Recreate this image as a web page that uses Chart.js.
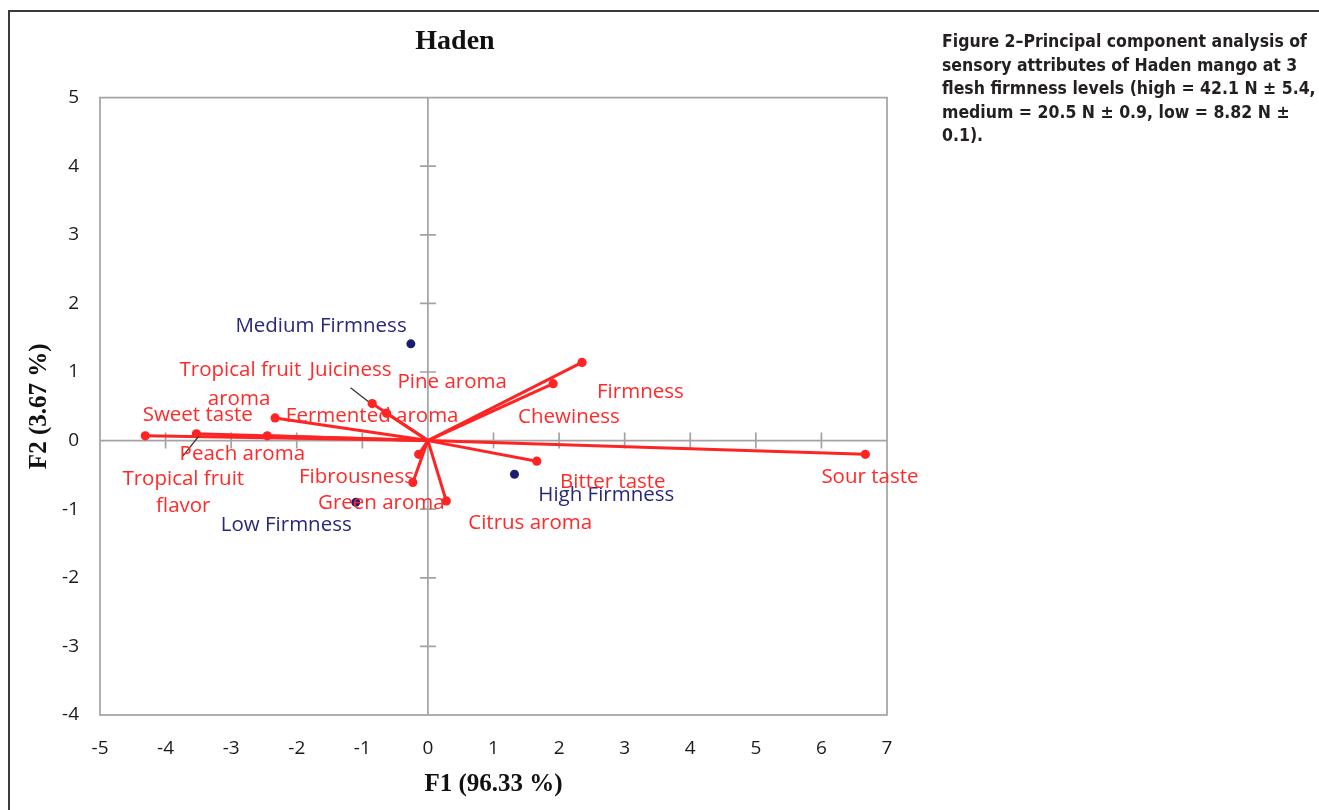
<!DOCTYPE html>
<html>
<head>
<meta charset="utf-8">
<script src="https://cdn.jsdelivr.net/npm/chart.js@4.4.1/dist/chart.umd.min.js"></script>
<style>
    body { margin: 0; background: #fff; width: 1319px; height: 810px; overflow: hidden; position: relative; }
    #frame { position: absolute; left: 8px; top: 10px; right: 0; bottom: 0; border-top: 2px solid #3a3a3a; border-left: 2px solid #3a3a3a; }
    #chart { position: absolute; left: 0; top: 0; }
    #caption {
        position: absolute; left: 942px; top: 30px; width: 377px;
        font-family: "DejaVu Sans Condensed", "DejaVu Sans", sans-serif;
        font-weight: bold; font-size: 17.5px; line-height: 23.5px; color: #231f20;
    }
</style>
</head>
<body>
<div id="frame"></div>
<canvas id="chart" width="1319" height="810"></canvas>
<div id="caption">Figure 2–Principal component analysis of<br>sensory attributes of Haden mango at 3<br>flesh firmness levels (high = 42.1 N ± 5.4,<br>medium = 20.5 N ± 0.9, low = 8.82 N ±<br>0.1).</div>
<script>
// Variables (loadings)
const attributes = ['Sweet taste', 'Tropical fruit flavor', 'Peach aroma', 'Tropical fruit aroma', 'Juiciness',
    'Fermented aroma', 'Green aroma', 'Fibrousness', 'Citrus aroma', 'Bitter taste', 'Chewiness', 'Firmness', 'Sour taste'];
const f1Loadings = [-4.31, -3.53, -2.45, -2.33, -0.85, -0.63, -0.14, -0.23, 0.28, 1.66, 1.91, 2.35, 6.67];
const f2Loadings = [0.07, 0.10, 0.07, 0.33, 0.54, 0.40, -0.20, -0.61, -0.88, -0.30, 0.83, 1.14, -0.20];

// Observations (firmness levels)
const observations = ['Medium Firmness', 'Low Firmness', 'High Firmness'];
const f1Scores = [-0.26, -1.10, 1.32];
const f2Scores = [1.41, -0.90, -0.49];

// Axis tick ranges
const xTicks = [-5, -4, -3, -2, -1, 0, 1, 2, 3, 4, 5, 6, 7];
const yTicks = [-4, -3, -2, -1, 0, 1, 2, 3, 4, 5];

// Text labels as placed on the plot (centre, in axis units)
const labelText = ['Medium Firmness', 'Low Firmness', 'High Firmness', 'Tropical fruit', 'Juiciness', 'aroma',
    'Pine aroma', 'Firmness', 'Chewiness', 'Sweet taste', 'Fermented aroma', 'Peach aroma', 'Tropical fruit',
    'flavor', 'Fibrousness', 'Green aroma', 'Citrus aroma', 'Bitter taste', 'Sour taste'];
const labelX = [-1.63, -2.16, 2.72, -2.86, -1.18, -2.88, 0.37, 3.24, 2.15, -3.51, -0.85, -2.83, -3.73, -3.73, -1.09, -0.71, 1.56, 2.82, 6.74];
const labelY = [1.67, -1.23, -0.79, 1.02, 1.02, 0.61, 0.85, 0.70, 0.34, 0.37, 0.35, -0.20, -0.56, -0.96, -0.53, -0.91, -1.20, -0.61, -0.53];
const labelIsObs = [true, true, true, false, false, false, false, false, false, false, false, false, false, false, false, false, false, false, false];

// Leader lines (label -> point)
const leaderLines = [
    [{ x: -1.18, y: 0.77 }, { x: -0.91, y: 0.57 }],
    [{ x: -3.74, y: -0.23 }, { x: -3.49, y: 0.07 }]
];

const RED = '#ff2424';
const NAVY = '#1d1d70';

const vectorSets = attributes.map((name, i) => ({
    label: name,
    data: [{ x: 0, y: 0 }, { x: f1Loadings[i], y: f2Loadings[i] }],
    showLine: true,
    borderColor: RED,
    backgroundColor: RED,
    borderWidth: 3,
    pointRadius: [0, 4.6],
    pointBorderWidth: 0,
    order: 3
}));

const leaderSets = leaderLines.map(seg => ({
    data: seg,
    showLine: true,
    borderColor: '#333',
    borderWidth: 1.3,
    pointRadius: 0,
    order: 2
}));

const obsSet = {
    label: 'Observations',
    data: observations.map((o, i) => ({ x: f1Scores[i], y: f2Scores[i] })),
    backgroundColor: NAVY,
    borderColor: NAVY,
    pointRadius: 4.5,
    pointBorderWidth: 0,
    order: 1
};

// Frame, zero axes and their small tick marks
const axesPlugin = {
    id: 'axesPlugin',
    beforeDatasetsDraw(chart) {
        const { ctx, chartArea: a, scales: { x, y } } = chart;
        const x0 = x.getPixelForValue(0);
        const y0 = y.getPixelForValue(0);
        ctx.save();
        ctx.strokeStyle = '#a3a3a3';
        ctx.lineWidth = 1.7;
        ctx.strokeRect(a.left, a.top, a.right - a.left, a.bottom - a.top);
        ctx.beginPath();
        ctx.moveTo(x0, a.top); ctx.lineTo(x0, a.bottom);
        ctx.moveTo(a.left, y0); ctx.lineTo(a.right, y0);
        xTicks.slice(1, -1).forEach(v => {
            if (v === 0) return;
            const px = x.getPixelForValue(v);
            ctx.moveTo(px, y0 - 8); ctx.lineTo(px, y0 + 8);
        });
        yTicks.slice(1, -1).forEach(v => {
            if (v === 0) return;
            const py = y.getPixelForValue(v);
            ctx.moveTo(x0 - 8, py); ctx.lineTo(x0 + 8, py);
        });
        ctx.stroke();
        ctx.restore();
    }
};

// Point labels
const labelPlugin = {
    id: 'labelPlugin',
    afterDatasetsDraw(chart) {
        const { ctx, scales: { x, y } } = chart;
        ctx.save();
        ctx.font = '20.5px "Open Sans", sans-serif';
        ctx.textAlign = 'center';
        ctx.textBaseline = 'middle';
        labelText.forEach((t, i) => {
            ctx.fillStyle = labelIsObs[i] ? '#28287a' : '#ff2a2a';
            ctx.fillText(t, x.getPixelForValue(labelX[i]), y.getPixelForValue(labelY[i]));
        });
        ctx.restore();
    }
};

document.addEventListener('DOMContentLoaded', () => {
    const ctx = document.getElementById('chart').getContext('2d');
    new Chart(ctx, {
        type: 'scatter',
        data: { datasets: [...vectorSets, ...leaderSets, obsSet] },
        options: {
            responsive: false,
            animation: false,
            devicePixelRatio: 1,
            layout: { padding: { left: 23, right: 432, top: 0, bottom: 0 } },
            plugins: {
                legend: { display: false },
                tooltip: { enabled: false },
                title: {
                    display: true,
                    text: 'Haden',
                    color: '#111',
                    font: { family: '"Liberation Serif", serif', size: 28, weight: 'bold' },
                    padding: { top: 25, bottom: 39 }
                }
            },
            scales: {
                x: {
                    type: 'linear',
                    min: xTicks[0],
                    max: xTicks[xTicks.length - 1],
                    afterBuildTicks: s => { s.ticks = xTicks.map(v => ({ value: v })); },
                    ticks: { padding: 22, color: '#1a1a1a', font: { family: '"Open Sans", sans-serif', size: 19 } },
                    grid: { display: false, drawTicks: false },
                    border: { display: false },
                    title: {
                        display: true,
                        text: 'F1 (96.33 %)',
                        color: '#111',
                        font: { family: '"Liberation Serif", serif', size: 25, weight: 'bold' },
                        padding: { top: 0, bottom: 10 }
                    },
                    afterFit: s => { s.height = 95; }
                },
                y: {
                    type: 'linear',
                    min: yTicks[0],
                    max: yTicks[yTicks.length - 1],
                    afterBuildTicks: s => { s.ticks = yTicks.map(v => ({ value: v })); },
                    ticks: { padding: 21, color: '#1a1a1a', font: { family: '"Open Sans", sans-serif', size: 19 } },
                    grid: { display: false, drawTicks: false },
                    border: { display: false },
                    title: {
                        display: true,
                        text: 'F2 (3.67 %)',
                        color: '#111',
                        font: { family: '"Liberation Serif", serif', size: 25, weight: 'bold' },
                        padding: { top: 2, bottom: 0 }
                    },
                    afterFit: s => { s.width = 77; }
                }
            }
        },
        plugins: [axesPlugin, labelPlugin]
    });
});
</script>
</body>
</html>
